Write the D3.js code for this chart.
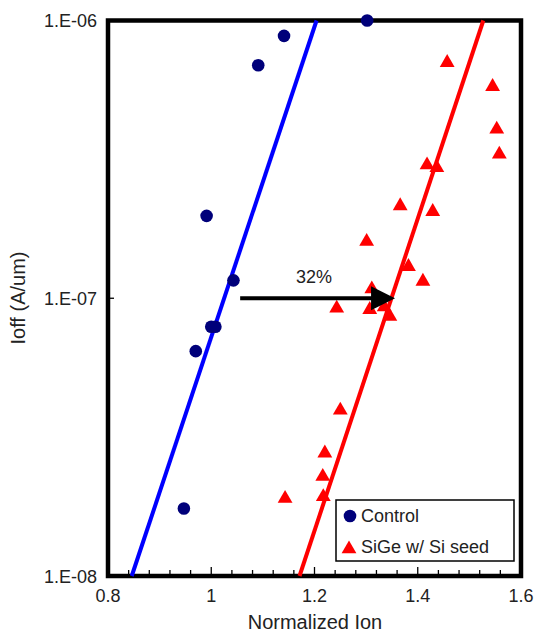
<!DOCTYPE html>
<html>
<head>
<meta charset="utf-8">
<script src="https://cdn.jsdelivr.net/npm/d3@7"></script>
<style>
  body { margin: 0; background: #fff; }
  text { font-family: "Liberation Sans", Arial, sans-serif; fill: #222; }
</style>
</head>
<body>
<svg id="chart" width="536" height="634"></svg>
<script>
// ── data ──
const controlIon  = [0.947, 0.970, 1.000, 1.008, 1.043, 0.991, 1.091, 1.141, 1.302];
const controlIoff = [1.75e-8, 6.45e-8, 7.9e-8, 7.9e-8, 1.16e-7, 1.98e-7, 6.9e-7, 8.8e-7, 1.0e-6];

const sigeIon  = [1.143, 1.217, 1.216, 1.220, 1.250, 1.243, 1.307, 1.311, 1.335, 1.346, 1.301,
                  1.382, 1.410, 1.366, 1.429, 1.418, 1.437, 1.457, 1.545, 1.553, 1.558];
const sigeIoff = [1.9e-8, 1.93e-8, 2.28e-8, 2.77e-8, 3.95e-8, 9.2e-8, 9.1e-8, 1.08e-7, 9.3e-8, 8.6e-8, 1.6e-7,
                  1.3e-7, 1.15e-7, 2.15e-7, 2.05e-7, 3.02e-7, 2.95e-7, 7.05e-7, 5.78e-7, 4.06e-7, 3.3e-7];

// trend lines (end points in data units)
const controlFit = [[0.846, 1e-8], [1.204, 1e-6]];
const sigeFit    = [[1.171, 1e-8], [1.527, 1e-6]];

// shift arrow + label
const arrowFrom = [1.056, 1e-7];
const arrowTo   = [1.356, 1e-7];
const arrowLabel = "32%";

const xTicks = [0.8, 1, 1.2, 1.4, 1.6];
const yTicks = [1e-8, 1e-7, 1e-6];
const yTickLabels = ["1.E-08", "1.E-07", "1.E-06"];
const seriesNames = ["Control", "SiGe w/ Si seed"];

// ── layout ──
const svg = d3.select("#chart");
const mL = 108, mR = 521, mT = 20.5, mB = 576;

const x = d3.scaleLinear().domain([0.8, 1.6]).range([mL, mR]);
const y = d3.scaleLog().domain([1e-8, 1e-6]).range([mB, mT]);

const navy = "#00007a", red = "#ff0000";

// minor + major ticks on x (inside)
const minor = d3.range(0.8, 1.6001, 0.04);
svg.append("g").selectAll("line").data(minor).join("line")
  .attr("x1", d => x(d)).attr("x2", d => x(d))
  .attr("y1", mB)
  .attr("y2", d => Math.abs(d * 5 - Math.round(d * 5)) < 1e-6 ? mB - 9 : mB - 6)
  .attr("stroke", "#000").attr("stroke-width", 1.3);

// y ticks inside
svg.append("g").selectAll("line").data(yTicks).join("line")
  .attr("x1", mL).attr("x2", mL + 6)
  .attr("y1", d => y(d)).attr("y2", d => y(d))
  .attr("stroke", "#000").attr("stroke-width", 1.3);

// frame
svg.append("rect")
  .attr("x", mL).attr("y", mT)
  .attr("width", mR - mL).attr("height", mB - mT)
  .attr("fill", "none").attr("stroke", "#000").attr("stroke-width", 4.5);

// tick labels
svg.append("g").selectAll("text").data(xTicks).join("text")
  .attr("x", d => x(d)).attr("y", 602)
  .attr("text-anchor", "middle").attr("font-size", 18)
  .text(d => d3.format("")(d));

svg.append("g").selectAll("text").data(yTicks).join("text")
  .attr("x", 97).attr("y", d => y(d) + 6.5)
  .attr("text-anchor", "end").attr("font-size", 18)
  .text((d, i) => yTickLabels[i]);

// axis titles
svg.append("text")
  .attr("x", 315).attr("y", 629)
  .attr("text-anchor", "middle").attr("font-size", 20)
  .text("Normalized Ion");

svg.append("text")
  .attr("transform", "translate(25,298) rotate(-90)")
  .attr("text-anchor", "middle").attr("font-size", 20)
  .text("Ioff (A/um)");

// fit lines
const line = d3.line().x(d => x(d[0])).y(d => y(d[1]));
svg.append("path").attr("d", line(controlFit))
  .attr("stroke", "#0000ff").attr("stroke-width", 4).attr("fill", "none");
svg.append("path").attr("d", line(sigeFit))
  .attr("stroke", red).attr("stroke-width", 4).attr("fill", "none");

// points
svg.append("g").selectAll("circle").data(d3.range(controlIon.length)).join("circle")
  .attr("cx", i => x(controlIon[i])).attr("cy", i => y(controlIoff[i]))
  .attr("r", 6.3).attr("fill", navy);

const tri = d3.symbol().type(d3.symbolTriangle).size(95);
svg.append("g").selectAll("path").data(d3.range(sigeIon.length)).join("path")
  .attr("transform", i => `translate(${x(sigeIon[i])},${y(sigeIoff[i])})`)
  .attr("d", tri).attr("fill", red);

// arrow
const ax0 = x(arrowFrom[0]), ax1 = x(arrowTo[0]), ay = y(arrowFrom[1]);
svg.append("line")
  .attr("x1", ax0).attr("x2", ax1 - 18).attr("y1", ay).attr("y2", ay)
  .attr("stroke", "#000").attr("stroke-width", 4);
svg.append("path")
  .attr("d", `M${ax1},${ay} L${ax1 - 24},${ay - 12} L${ax1 - 24},${ay + 12} Z`)
  .attr("fill", "#000");
svg.append("text")
  .attr("x", 314).attr("y", 283)
  .attr("text-anchor", "middle").attr("font-size", 18)
  .text(arrowLabel);

// legend
const lg = svg.append("g");
lg.append("rect").attr("x", 336).attr("y", 500).attr("width", 178).attr("height", 61)
  .attr("fill", "#fff").attr("stroke", "#000").attr("stroke-width", 1.5);
lg.append("circle").attr("cx", 350).attr("cy", 516).attr("r", 6.3).attr("fill", navy);
lg.append("path").attr("transform", "translate(349,549)").attr("d", tri).attr("fill", red);
lg.selectAll("text").data(seriesNames).join("text")
  .attr("x", 361).attr("y", (d, i) => 522 + i * 31)
  .attr("font-size", 18)
  .text(d => d);
</script>
</body>
</html>
